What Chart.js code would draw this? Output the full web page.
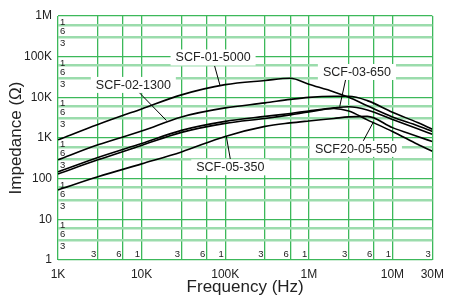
<!DOCTYPE html>
<html>
<head>
<meta charset="utf-8">
<script src="https://cdn.jsdelivr.net/npm/chart.js@4/dist/chart.umd.min.js"></script>
<style>
  html, body { margin: 0; padding: 0; background: #fff; }
  #wrap { width: 451px; height: 300px; }
</style>
</head>
<body>
<div id="wrap"><canvas id="impedance-chart"></canvas></div>
<script>
// frequency points (Hz) shared by every curve
const freqs = [1e3, 3e3, 1e4, 3e4, 1e5, 3e5, 6e5, 1e6, 2e6, 3e6, 5e6, 1e7, 2e7, 3e7];

// impedance (ohm)
const scf01_5000 = [900, 2150, 5200, 11500, 20500, 26000, 29500, 21000, 13600, 10000, 6200, 3300, 2000, 1450];
const scf02_1300 = [290, 680, 1480, 3300, 5500, 7300, 8900, 10000, 10600, 10600, 8300, 4300, 2400, 1650];
const scf03_650 = [147, 333, 736, 1540, 2560, 3400, 4020, 4630, 5500, 5870, 4900, 2860, 1680, 1240];
const scf20_05_550 = [131, 290, 658, 1374, 2290, 3030, 3700, 4380, 5330, 4600, 2790, 1450, 700, 470];
const scf05_350 = [53, 111, 231, 455, 1094, 1930, 2350, 2630, 3030, 3300, 3400, 1800, 1094, 816];

const seriesNames = ['SCF-01-5000', 'SCF-02-1300', 'SCF-03-650', 'SCF20-05-550', 'SCF-05-350'];
const seriesValues = [scf01_5000, scf02_1300, scf03_650, scf20_05_550, scf05_350];

// axis ticks / grid
const xTickValues = [1e3, 3e3, 6e3, 1e4, 3e4, 6e4, 1e5, 3e5, 6e5, 1e6, 3e6, 6e6, 1e7, 3e7];
const xTickLabels = ['1K', '', '', '10K', '', '', '100K', '', '', '1M', '', '', '10M', '30M'];
const xSmallLabels = ['', '3', '6', '1', '3', '6', '1', '3', '6', '1', '3', '6', '1', '3'];
const yTickValues = [1, 3, 6, 10, 30, 60, 100, 300, 600, 1e3, 3e3, 6e3, 1e4, 3e4, 6e4, 1e5, 3e5, 6e5, 1e6];
const yTickLabels = ['1', '', '', '10', '', '', '100', '', '', '1K', '', '', '10K', '', '', '100K', '', '', '1M'];
const ySmallLabels = ['', '3', '6', '1', '3', '6', '1', '3', '6', '1', '3', '6', '1', '3', '6', '1', '3', '6', '1'];

// callouts: label centre, leader start and end, all in (Hz, ohm)
const callouts = [
  { text: 'SCF-01-5000', at: [71600, 95500], from: [74700, 59000], to: [86700, 19500] },
  { text: 'SCF-02-1300', at: [7960, 20200], from: [9200, 13600], to: [19800, 2700] },
  { text: 'SCF-03-650', at: [3760000, 42000], from: [2750000, 26800], to: [2340000, 5900] },
  { text: 'SCF20-05-550', at: [3660000, 540], from: [4480000, 849], to: [5870000, 2400] },
  { text: 'SCF-05-350', at: [115000, 190], from: [115000, 306], to: [103000, 1110] }
];

const gridDark = '#3cb85a';
const gridLight = '#9bdcac';
const font = '"Liberation Sans", Arial, Helvetica, sans-serif';

const isDecade = v => Math.abs(Math.log10(v) - Math.round(Math.log10(v))) < 1e-9;

const extras = {
  id: 'extras',
  beforeDatasetsDraw(chart) {
    const { ctx, chartArea: area, scales: { x, y } } = chart;
    ctx.save();
    ctx.fillStyle = '#222';
    ctx.font = '9.5px ' + font;
    ctx.textAlign = 'left';
    ctx.textBaseline = 'top';
    yTickValues.forEach((v, i) => {
      if (ySmallLabels[i]) ctx.fillText(ySmallLabels[i], area.left + 2, y.getPixelForValue(v) + 1.5);
    });
    ctx.textAlign = 'right';
    ctx.textBaseline = 'bottom';
    xTickValues.forEach((v, i) => {
      if (xSmallLabels[i]) ctx.fillText(xSmallLabels[i], x.getPixelForValue(v) - 1.5, area.bottom - 0.5);
    });

    ctx.font = '12.5px ' + font;
    ctx.textAlign = 'center';
    ctx.textBaseline = 'middle';
    callouts.forEach(c => {
      const cx = x.getPixelForValue(c.at[0]);
      const cy = y.getPixelForValue(c.at[1]);
      ctx.strokeStyle = '#000';
      ctx.lineWidth = 1;
      ctx.beginPath();
      ctx.moveTo(x.getPixelForValue(c.from[0]), y.getPixelForValue(c.from[1]));
      ctx.lineTo(x.getPixelForValue(c.to[0]), y.getPixelForValue(c.to[1]));
      ctx.stroke();
      const w = ctx.measureText(c.text).width + 10;
      ctx.fillStyle = '#fff';
      ctx.fillRect(cx - w / 2, cy - 8, w, 16);
      ctx.fillStyle = '#222';
      ctx.fillText(c.text, cx, cy + 0.5);
    });
    ctx.restore();
  }
};

const datasets = seriesValues.map((vals, i) => ({
  label: seriesNames[i],
  data: freqs.map((f, j) => ({ x: f, y: vals[j] })),
  borderColor: '#000',
  borderWidth: 1.6,
  pointRadius: 0,
  fill: false,
  cubicInterpolationMode: 'monotone'
}));

new Chart(document.getElementById('impedance-chart'), {
  type: 'line',
  data: { datasets },
  options: {
    responsive: true,
    maintainAspectRatio: false,
    animation: false,
    layout: { padding: { top: 16, right: 13, left: 0, bottom: 0 } },
    plugins: { legend: { display: false }, tooltip: { enabled: false } },
    scales: {
      x: {
        type: 'logarithmic',
        min: 1e3,
        max: 3e7,
        afterBuildTicks: axis => { axis.ticks = xTickValues.map(v => ({ value: v })); },
        afterFit: axis => { axis.height = 40; },
        grid: { color: gridDark, lineWidth: 1.3, drawTicks: false },
        border: { display: false },
        ticks: {
          autoSkip: false,
          maxRotation: 0,
          padding: 7,
          color: '#222',
          font: { size: 12, family: font },
          callback: (v, i) => xTickLabels[i]
        },
        title: {
          display: true,
          text: 'Frequency (Hz)',
          color: '#222',
          font: { size: 17, family: font },
          padding: { top: 0, bottom: 2 }
        }
      },
      y: {
        type: 'logarithmic',
        min: 1,
        max: 1e6,
        afterBuildTicks: axis => { axis.ticks = yTickValues.map(v => ({ value: v })); },
        afterFit: axis => { axis.width = 58; },
        grid: {
          color: c => isDecade(c.tick.value) ? gridDark : gridLight,
          lineWidth: c => isDecade(c.tick.value) ? 1.3 : 2.5,
          drawTicks: false
        },
        border: { display: false },
        ticks: {
          autoSkip: false,
          padding: 6,
          color: '#222',
          font: { size: 12, family: font },
          callback: (v, i) => yTickLabels[i]
        },
        title: {
          display: true,
          text: 'Impedance (Ω)',
          color: '#222',
          font: { size: 17, family: font },
          padding: { top: 6, bottom: 0 }
        }
      }
    }
  },
  plugins: [extras]
});
</script>
</body>
</html>
